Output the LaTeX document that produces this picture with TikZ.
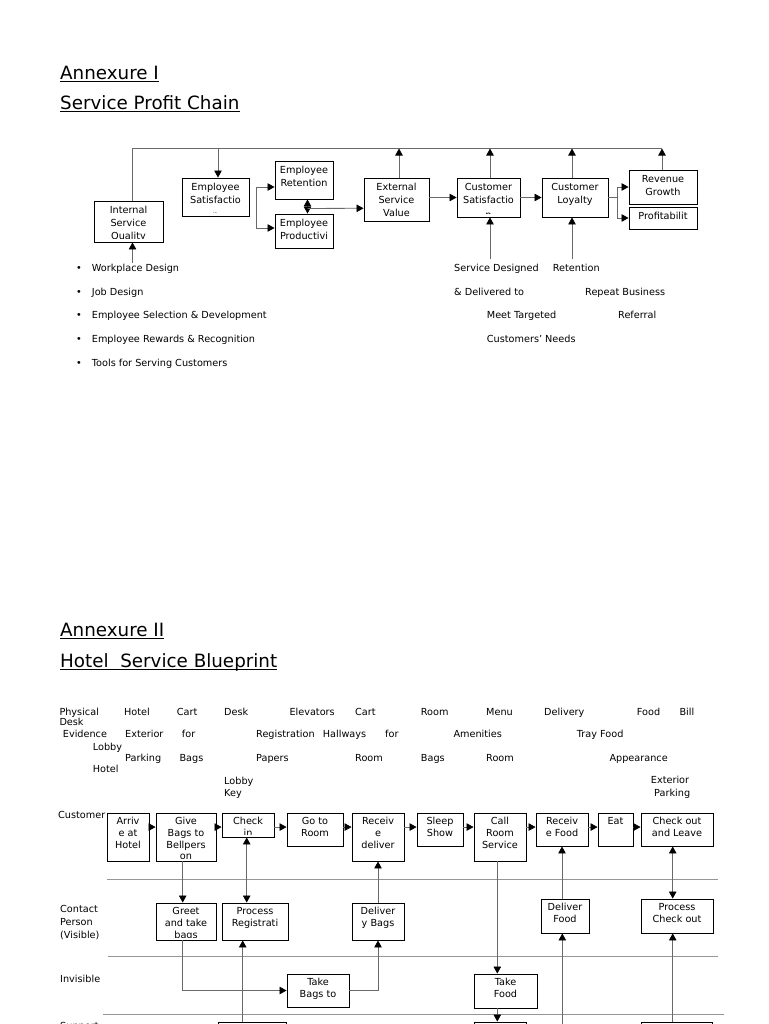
\documentclass[tikz,border=0pt]{standalone}
\usepackage{fontspec}
\setmainfont{DejaVu Sans}
\usetikzlibrary{arrows.meta,calc,fit}
\definecolor{ln}{RGB}{105,105,105}
\definecolor{lane}{RGB}{150,150,150}
\tikzset{
  boxs/.style={draw=black, line width=0.9pt, inner sep=0pt},
  conn/.style={draw=ln, line width=0.8pt},
  arr/.style={conn, -{Triangle[length=7pt,width=7.5pt,color=black]}},
  arrb/.style={conn, {Triangle[length=7pt,width=7.5pt,color=black]}-{Triangle[length=7pt,width=7.5pt,color=black]}},
  lbl/.style={anchor=base west, inner sep=0pt},
  ttl/.style={anchor=base west, inner sep=0pt, font=\fontsize{18.3}{22}\selectfont},
  lanel/.style={draw=lane, line width=1pt},
}
\newcommand\bpfirst{13}
\newcommand\bpinset{2.5}
\newcommand\bpbox[6]{%
  \node[boxs, fit={(#2,#3) (#4,#5)}] (#1) {};
  \begin{scope}
    \clip (#2,#3) rectangle ($(#4,#5)+(0,-\bpinset)$);
    \node[anchor=base, inner sep=0pt] at ($(#1.north)+(0,\bpfirst)$) {\begin{tabular}[t]{@{}c@{}}#6\end{tabular}};
  \end{scope}}
\begin{document}
\begin{tikzpicture}[x=1pt,y=-1pt, every node/.style={font=\fontsize{9.7}{11.5}\selectfont}]
\useasboundingbox (0,0) rectangle (768,1024);
\clip (0,0) rectangle (768,1024);

% ---------- Annexure I ----------
\node[ttl] (t1) at (60,79.5) {Annexure I};
\draw[line width=1.3pt] ($(t1.base west)+(0,2)$) -- ($(t1.base east)+(0,2)$);
\node[ttl] (t2) at (60,109.5) {Service Profit Chain};
\draw[line width=1.3pt] ($(t2.base west)+(0,2)$) -- ($(t2.base east)+(0,2)$);

\renewcommand\arraystretch{1.13}
\renewcommand\bpfirst{13}
\renewcommand\bpinset{3.5}
\bpbox{isq}{94}{201}{163}{242}{Internal\\Service\\Quality}
\bpbox{esat}{182}{178}{249}{216}{Employee\\Satisfactio\\[1.5pt]n}
\bpbox{eret}{275}{161}{333}{199}{Employee\\Retention}
\bpbox{eprod}{275}{214}{333}{248}{Employee\\Productivi}
\bpbox{esv}{364}{178}{429}{221}{External\\Service\\Value}
\bpbox{csat}{457}{178}{520}{217}{Customer\\Satisfactio\\[1.5pt]n}
\bpbox{cloy}{542}{178}{608}{217}{Customer\\Loyalty}
\bpbox{rev}{629}{170}{697}{204}{Revenue\\Growth}
\bpbox{prof}{629}{207}{697}{229}{Profitabilit}

% top feedback line
\coordinate (iq) at ($(isq.north)+(4,0)$);
\draw[conn] (iq) |- ($(rev.north)+(-1,-21)$);
\coordinate (es) at ($(esat.north)+(2.5,0)$);
\draw[arr] ($(es)+(0,-29)$) -- (es);
\draw[arr] ($(esv.north)+(2.5,0)$) -- ++(0,-29);
\draw[arr] ($(csat.north)+(1.5,0)$) -- ++(0,-29);
\draw[arr] ($(cloy.north)+(-3,0)$) -- ++(0,-29);
\draw[arr] ($(rev.north)+(-1,0)$) -- ++(0,-21);

% bracket from satisfaction
\coordinate (b1) at ($(eret.west)+(-18.3,7)$);
\coordinate (b2) at ($(eprod.west)+(-18.3,-3)$);
\draw[arr] (b2) |- ($(eret.west)+(0,7)$);
\draw[arr] (b1) |- ($(eprod.west)+(0,-3)$);

% retention <-> productivity, to external service value
\coordinate (rp) at ($(eret.south)+(3.5,0)$);
\draw[arrb] (rp) -- (rp |- eprod.north);
\draw[arr] ($(rp)+(0,9)$) -- ($(esv.west)+(0,8.8)$);
\draw[arr] (esv.east |- csat.west) -- (csat.west);
\draw[arr] (csat.east) -- (cloy.west);
\coordinate (br) at ($(cloy.east)+(9,0)$);
\draw[conn] (cloy.east) -- (br);
\draw[arr] (br) |- (rev.west);
\draw[arr] (br) |- (prof.west);

% arrows from below
\coordinate (iqb) at ($(isq.south)+(4,21)$);
\draw[arr] (iqb) -- (iqb |- isq.south);
\coordinate (csb) at ($(csat.south)+(1.5,42)$);
\draw[arr] (csb) -- (csb |- csat.south);
\coordinate (clb) at ($(cloy.south)+(-3,42)$);
\draw[arr] (clb) -- (clb |- cloy.south);

% bullet list
\foreach \y/\t [count=\i] in {271/Workplace Design, 295/Job Design, 318.5/Employee Selection \& Development, 342.5/Employee Rewards \& Recognition, 366/Tools for Serving Customers}{
  \node[lbl] (bu\i) at (76,\y) {•};
  \node[lbl] (bt\i) at (91.7,\y) {\t};
}
\node[lbl] (r1) at (454,271) {Service Designed};
\node[lbl] (r2) at (552.7,271) {Retention};
\node[lbl] (r3) at (454,295) {\& Delivered to};
\node[lbl] (r4) at (585,295) {Repeat Business};
\node[lbl] (r5) at (486.7,318.5) {Meet Targeted};
\node[lbl] (r6) at (618,318.5) {Referral};
\node[lbl] (r7) at (486.7,342.5) {Customers' Needs};

% ---------- Annexure II ----------
\node[ttl] (t3) at (60,636.5) {Annexure II};
\draw[line width=1.3pt] ($(t3.base west)+(0,2)$) -- ($(t3.base east)+(0,2)$);
\node[ttl] (t4) at (60,667) {Hotel~ Service Blueprint};
\draw[line width=1.3pt] ($(t4.base west)+(0,2.5)$) -- ($(t4.base east)+(0,2.5)$);

% physical evidence
\foreach \x/\y/\t [count=\i] in {59.3/715/Physical, 124/715/Hotel, 176.7/715/Cart, 224/715/Desk, 289.3/715/Elevators, 355/715/Cart, 420.7/715/Room, 486/715/Menu, 544/715/Delivery, 636.7/715/Food, 679.3/715/Bill,
 59.3/725.7/Desk, 62.7/737.3/Evidence, 125/737.3/Exterior, 181.7/737.3/for, 256/737.3/Registration, 322.7/737.3/Hallways, 385/737.3/for, 453.3/737.3/Amenities, 576.7/737.3/Tray Food,
 92.7/750/Lobby, 125/761/Parking, 179.3/761/Bags, 256/761/Papers, 355/761/Room, 420.7/761/Bags, 486/761/Room, 609.3/761/Appearance,
 92.7/772.3/Hotel, 224/784/Lobby, 650.7/783.3/Exterior, 224/796/Key, 654/796/Parking}{
  \node[lbl] (pe\i) at (\x,\y) {\t};
}

% lane labels
\node[lbl] (lc) at (58,818.3) {Customer};
\node[lbl] (lv) at (60,912.3) {\begin{tabular}[t]{@{}l@{}}Contact\\Person\\(Visible)\end{tabular}};
\node[lbl] (li) at (60,982.7) {Invisible};
\node[lbl] (ls) at (60,1029) {Support};

% lane lines
\draw[lanel] (107,879.3) -- (718,879.3);
\draw[lanel] (108,956) -- (718,956);
\draw[lanel] (103,1014) -- (724,1014);

\renewcommand\arraystretch{1.026}
\renewcommand\bpfirst{12}
\renewcommand\bpinset{2.5}
\bpbox{arrive}{107}{813}{149}{861}{Arriv\\e at\\Hotel}
\bpbox{give}{156}{813}{216}{861}{Give\\Bags to\\Bellpers\\on}
\bpbox{chk}{222}{813}{274}{837}{Check\\in}
\bpbox{goto}{287}{813}{343}{846}{Go to\\Room}
\bpbox{recv}{352}{813}{404}{861}{Receiv\\e\\deliver}
\bpbox{sleep}{417}{813}{463}{846}{Sleep\\Show}
\bpbox{call}{474}{813}{526}{861}{Call\\Room\\Service}
\bpbox{recf}{536}{813}{588}{846}{Receiv\\e Food}
\bpbox{eat}{598}{813}{633}{846}{Eat}
\bpbox{chko}{641}{813}{713}{846}{Check out\\and Leave}
\bpbox{greet}{156}{903}{216}{940}{Greet\\and take\\bags}
\bpbox{proc}{222}{903}{288}{940}{Process\\Registrati}
\bpbox{delb}{352}{903}{404}{940}{Deliver\\y Bags}
\bpbox{delf}{541}{899}{589}{933}{Deliver\\Food}
\bpbox{pchk}{641}{899}{713}{933}{Process\\Check out}
\bpbox{takeb}{287}{974}{349}{1007}{Take\\Bags to}
\bpbox{takef}{474}{974}{537}{1008}{Take\\Food}
\bpbox{sup1}{218}{1022}{286}{1060}{}
\bpbox{sup2}{474}{1022}{526}{1060}{}
\bpbox{sup3}{641}{1022}{712}{1060}{}

% customer sequence
\foreach \a/\b in {arrive/give, give/chk, chk/goto, goto/recv, recv/sleep, sleep/call, call/recf, recf/eat, eat/chko}{
  \draw[arr] ($(\a.north east)+(0,14.5)$) -- ($(\b.north west)+(0,14.5)$);
}

% vertical connectors
\coordinate (gx) at ($(give.south)+(-3.3,0)$);
\draw[arr] (gx) -- (gx |- greet.north);
\coordinate (cx) at ($(chk.south)+(-1.3,0)$);
\draw[arrb] (cx) -- (cx |- proc.north);
\draw[arr] (delb.north) -- (recv.south);
\coordinate (rx) at ($(call.south)+(-2.7,0)$);
\draw[arr] (rx) -- (rx |- takef.north);
\draw[arr] (recf.south |- delf.north) -- (recf.south);
\coordinate (ox) at ($(chko.south)+(-4.3,0)$);
\draw[arrb] (ox) -- (ox |- pchk.north);
\coordinate (gg) at ($(greet.south)+(-3.3,0)$);
\draw[arr] (gg) |- (takeb.west);
\draw[arr] (takeb.east) -| (delb.south);
\coordinate (px) at ($(proc.south)+(-12.3,0)$);
\draw[arr] (px |- sup1.north) -- (px);
\coordinate (fx) at (562.3,1040);
\draw[arr] (fx) -- (fx |- delf.south);
\coordinate (qx) at ($(pchk.south)+(-4.3,0)$);
\draw[arr] (qx |- sup3.north) -- (qx);
\coordinate (tx) at ($(takef.south)+(-8.2,0)$);
\draw[arr] (tx) -- (tx |- sup2.north);
\end{tikzpicture}
\end{document}
